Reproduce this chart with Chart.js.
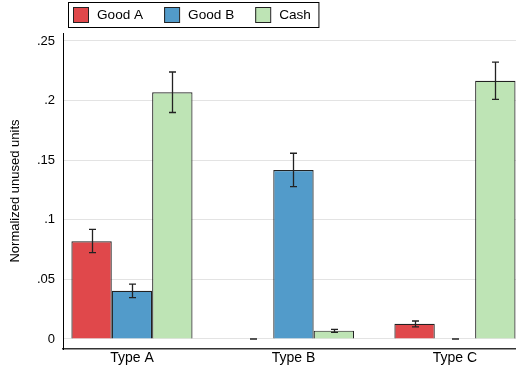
<!DOCTYPE html>
<html>
<head>
<meta charset="utf-8">
<script src="https://cdn.jsdelivr.net/npm/chart.js@4/dist/chart.umd.min.js"></script>
<style>
  html, body { margin: 0; padding: 0; background: #fff; overflow: hidden; }
  #wrap { width: 516px; height: 367px; position: relative; }
</style>
</head>
<body>
<div id="wrap"><canvas id="c" width="516" height="367"></canvas></div>
<script>
// Categories and series
const categories = ['Type A', 'Type B', 'Type C'];
const seriesNames = ['Good A', 'Good B', 'Cash'];

// Mean normalized unused units per type
const goodA = [0.082, 0.0, 0.0128];
const goodB = [0.0405, 0.1418, 0.0];
const cash  = [0.207, 0.0070, 0.2167];

// Confidence interval bounds
const goodALow  = [0.0724, 0.0, 0.0101];
const goodAHigh = [0.0920, 0.0, 0.0151];
const goodBLow  = [0.0347, 0.1278, 0.0];
const goodBHigh = [0.0461, 0.1558, 0.0];
const cashLow   = [0.1900, 0.0056, 0.2011];
const cashHigh  = [0.2240, 0.0081, 0.2322];

// Y axis ticks
const yTicks = [0, 0.05, 0.1, 0.15, 0.2, 0.25];
const yTickLabels = ['0', '.05', '.1', '.15', '.2', '.25'];

const seriesValues = [goodA, goodB, cash];
const seriesLow = [goodALow, goodBLow, cashLow];
const seriesHigh = [goodAHigh, goodBHigh, cashHigh];
const seriesColors = ['#e0484b', '#529bca', '#bee4b5'];

const FONT = '"Liberation Sans", Arial, Helvetica, sans-serif';

// Error bars with caps drawn over each bar
const errorBars = {
  id: 'errorBars',
  afterDatasetsDraw(chart) {
    const { ctx } = chart;
    const y = chart.scales.y;
    ctx.save();
    ctx.strokeStyle = '#222';
    ctx.lineWidth = 1.3;
    chart.data.datasets.forEach((ds, di) => {
      const meta = chart.getDatasetMeta(di);
      meta.data.forEach((bar, i) => {
        const lo = y.getPixelForValue(seriesLow[di][i]);
        const hi = y.getPixelForValue(seriesHigh[di][i]);
        const cx = Math.round(bar.x) + 0.5;
        const hw = 3.5;
        ctx.beginPath();
        ctx.moveTo(cx, hi); ctx.lineTo(cx, lo);
        ctx.moveTo(cx - hw, hi); ctx.lineTo(cx + hw, hi);
        ctx.moveTo(cx - hw, lo); ctx.lineTo(cx + hw, lo);
        ctx.stroke();
      });
    });
    ctx.restore();
  }
};

// Boxed legend across the top
const boxLegend = {
  id: 'boxLegend',
  afterDraw(chart) {
    const { ctx } = chart;
    ctx.save();
    ctx.font = '13.6px ' + FONT;
    ctx.textBaseline = 'middle';
    const top = 2.5, h = 25, sq = 15;
    let x = 73;
    const startX = 68.5;
    chart.data.datasets.forEach((ds, i) => {
      ctx.fillStyle = ds.backgroundColor;
      ctx.fillRect(x, 7.5, sq, sq);
      ctx.strokeStyle = '#222';
      ctx.lineWidth = 1;
      ctx.strokeRect(x + 0.5, 7.5, sq, sq);
      ctx.fillStyle = '#000';
      ctx.fillText(ds.label, x + sq + 9, 15.5);
      x += sq + 9 + ctx.measureText(ds.label).width + 21;
    });
    const endX = x - 21 + 8;
    ctx.strokeStyle = '#000';
    ctx.lineWidth = 1;
    ctx.strokeRect(startX, top, endX - startX, h);
    ctx.restore();
  }
};

new Chart(document.getElementById('c'), {
  type: 'bar',
  data: {
    datasets: seriesNames.map((name, si) => ({
      label: name,
      data: categories.map((c, i) => ({ x: i + 1, y: seriesValues[si][i] })),
      backgroundColor: seriesColors[si],
      borderColor: '#222',
      borderWidth: 1.2,
      categoryPercentage: 0.75,
      barPercentage: 1.0
    }))
  },
  options: {
    responsive: false,
    animation: false,
    layout: { padding: { top: 33, left: 0, right: 0, bottom: 0 } },
    plugins: {
      legend: { display: false },
      tooltip: { enabled: false }
    },
    scales: {
      x: {
        type: 'linear',
        offset: false,
        min: 0.573,
        max: 3.378,
        afterBuildTicks(scale) { scale.ticks = categories.map((c, i) => ({ value: i + 1 })); },
        afterFit(scale) { scale.height = 18; },
        ticks: {
          padding: 1,
          color: '#000',
          font: { family: FONT, size: 14 },
          maxRotation: 0,
          autoSkip: false,
          callback: (v) => categories[Math.round(v) - 1]
        },
        grid: { display: false, drawTicks: false, offset: false },
        border: { display: true, color: '#333', width: 1.5 }
      },
      y: {
        min: -0.0084,
        max: 0.2567,
        afterBuildTicks(scale) { scale.ticks = yTicks.map(v => ({ value: v })); },
        afterFit(scale) { scale.width = 63; },
        ticks: {
          padding: 8,
          color: '#000',
          font: { family: FONT, size: 13 },
          callback: (v) => yTickLabels[yTicks.indexOf(v)]
        },
        grid: { color: '#e3e3e3', lineWidth: 1, drawTicks: false },
        border: { display: true, color: '#000', width: 1 },
        title: {
          display: true,
          text: 'Normalized unused units',
          color: '#000',
          font: { family: FONT, size: 13 },
          padding: { top: 8, bottom: 0 }
        }
      }
    }
  },
  plugins: [errorBars, boxLegend]
});
</script>
</body>
</html>
